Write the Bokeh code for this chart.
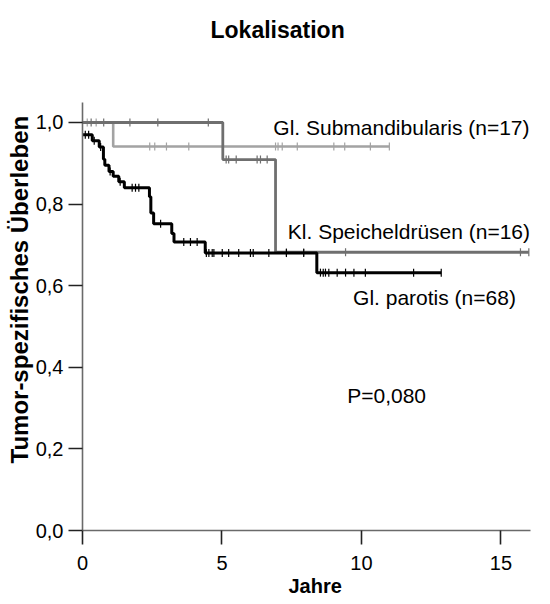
import numpy as np
from bokeh.plotting import figure
from bokeh.models import Range1d, FixedTicker, Label, Title
from bokeh.embed import file_html
from bokeh.resources import INLINE

# ---- data ----
# Gl. Submandibularis (n=17)
sub_times = [0.0, 1.10]
sub_surv = [1.0, 0.941]
sub_end = 11.0
sub_cens = [0.17, 0.49, 2.41, 2.59, 3.01, 3.81, 6.92, 7.01, 7.16, 7.70, 9.01, 9.40, 10.32, 11.0]

# Kl. Speicheldrüsen (n=16)
kl_times = [0.0, 5.03, 6.92]
kl_surv = [1.0, 0.909, 0.682]
kl_end = 16.0
kl_cens = [0.31, 0.76, 1.70, 2.70, 4.51, 5.15, 5.24, 5.51, 6.26, 6.38, 6.62,
           7.31, 7.93, 9.43, 15.7, 16.0]

# Gl. parotis (n=68)
par_times = [0.0, 0.35, 0.60, 0.75, 0.80, 0.95, 1.10, 1.30, 1.50, 2.40, 2.45,
             2.55, 3.20, 3.28, 4.40, 8.40]
par_surv = [0.970, 0.955, 0.940, 0.910, 0.895, 0.880, 0.868, 0.855, 0.840,
            0.818, 0.778, 0.752, 0.728, 0.707, 0.680, 0.632]
par_end = 12.86
par_cens = [0.10, 0.22, 0.42, 0.65, 0.99, 1.35, 1.78, 1.90, 2.02, 2.80, 3.63,
            3.87, 4.11, 4.44, 4.53, 4.65, 4.71, 5.01, 5.24, 5.60, 6.02, 6.12,
            6.68, 7.31, 7.93, 8.53, 8.63, 8.71, 8.83, 9.13, 9.43, 9.73, 10.14,
            11.87, 12.86]

x_ticks = [0, 5, 10, 15]
y_ticks = [0.0, 0.2, 0.4, 0.6, 0.8, 1.0]
y_tick_labels = ["0,0", "0,2", "0,4", "0,6", "0,8", "1,0"]

title_text = "Lokalisation"
x_label = "Jahre"
y_label = "Tumor-spezifisches Überleben"
p_value_text = "P=0,080"

FONT = "Liberation Sans"

p = figure(width=550, height=604, output_backend="svg", toolbar_location=None,
           x_range=Range1d(0, 16.06), y_range=Range1d(0, 1.049),
           min_border_left=82, min_border_right=20, min_border_top=102,
           min_border_bottom=74)
p.outline_line_color = None
p.grid.visible = False
p.background_fill_color = "white"
p.border_fill_color = "white"

for ax in (p.xaxis[0], p.yaxis[0]):
    ax.axis_line_color = "#6a6a6a"
    ax.axis_line_width = 1.6
    ax.major_tick_line_color = "#222222"
    ax.major_tick_line_width = 1.6
    ax.minor_tick_line_color = None
    ax.major_tick_in = 0
    ax.major_tick_out = 14
    ax.major_label_text_font = FONT
    ax.major_label_text_font_size = "20px"
    ax.major_label_text_color = "black"

p.xaxis.ticker = FixedTicker(ticks=x_ticks)
p.yaxis.ticker = FixedTicker(ticks=y_ticks)
p.yaxis.major_label_overrides = {t: l for t, l in zip(y_ticks, y_tick_labels)}
p.xaxis.major_label_standoff = 11
p.yaxis.major_label_standoff = 5

# title and axis titles
p.title.text = title_text
p.title.align = "left"
p.title.offset = 128
p.title.standoff = 0
p.title.vertical_align = "top"
p.title.padding = dict(top=16, bottom=58, left=0, right=0)
p.title.text_font = FONT
p.title.text_font_size = "23px"
p.title.text_font_style = "bold"
p.title.text_color = "black"

p.add_layout(Title(text=y_label, align="left", offset=67, standoff=0,
                   text_font=FONT, text_font_size="24px",
                   text_font_style="bold", text_color="black"), "left")
p.add_layout(Title(text=x_label, align="left", offset=206, standoff=0,
                   text_font=FONT, text_font_size="20px",
                   text_font_style="bold", text_color="black"), "below")


def draw(times, surv, end, cens, color, width):
    xs = list(times) + [end]
    ys = list(surv) + [surv[-1]]
    p.step(xs, ys, mode="after", line_color=color, line_width=width)
    idx = np.searchsorted(np.array(times), np.array(cens), side="right") - 1
    cy = np.array(surv)[idx]
    p.scatter(cens, cy, marker="dash", angle=np.pi / 2, size=8,
              line_color=color, line_width=1.2)


draw(sub_times, sub_surv, sub_end, sub_cens, "#a3a3a3", 2.6)
draw(kl_times, kl_surv, kl_end, kl_cens, "#6f6f6f", 2.8)
draw(par_times, par_surv, par_end, par_cens, "#000000", 3.0)

labels = [
    ("Gl. Submandibularis (n=17)", 6.84, 0.988),
    ("Kl. Speicheldrüsen (n=16)", 7.36, 0.733),
    ("Gl. parotis (n=68)", 9.70, 0.571),
    (p_value_text, 9.49, 0.331),
]
for txt, lx, ly in labels:
    p.add_layout(Label(x=lx, y=ly, text=txt, text_font=FONT,
                       text_font_size="21px", text_color="black",
                       text_align="left", text_baseline="alphabetic"))

open("out.html", "w").write(file_html(p, INLINE))
